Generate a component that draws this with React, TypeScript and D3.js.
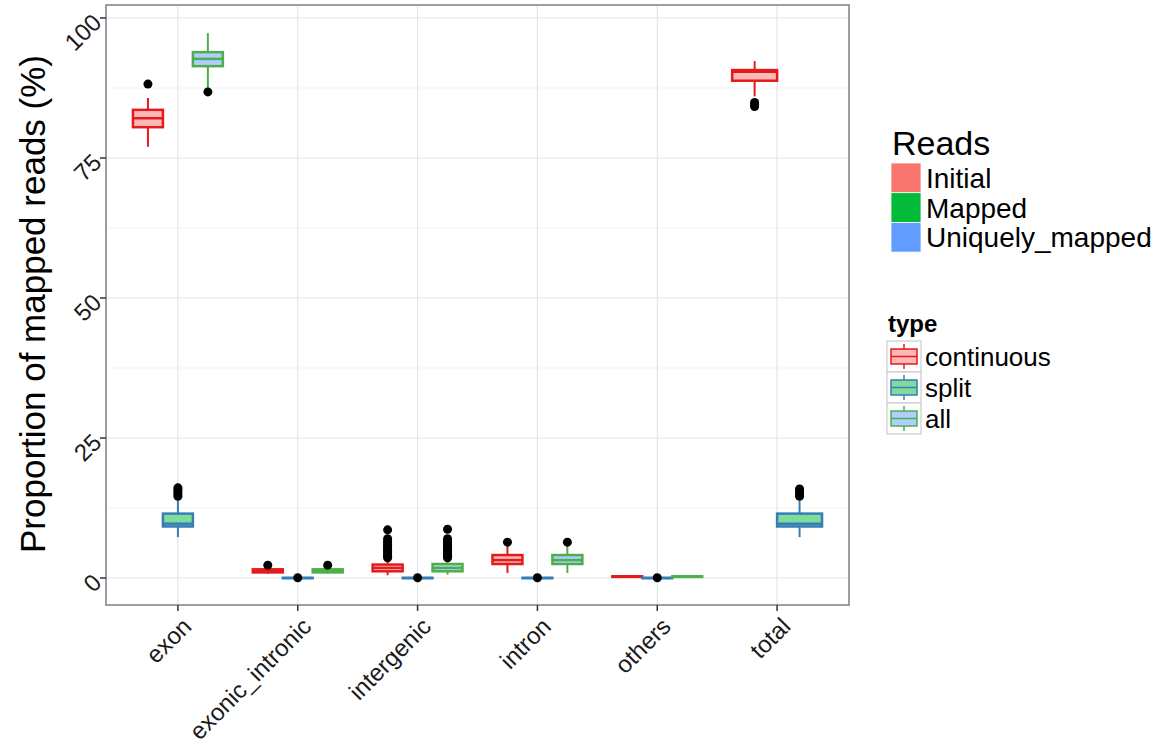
import React, { useRef, useEffect } from "react";
import * as d3 from "d3";

const categories = ["exon", "exonic_intronic", "intergenic", "intron", "others", "total"];
const yTicks = [0, 25, 50, 75, 100];
const yMinor = [12.5, 37.5, 62.5, 87.5];

// five-number summaries per category: [lower whisker, q1, median, q3, upper whisker]
const continuousStats = [
  [77.0, 80.5, 82.1, 83.6, 85.7],
  [0.8, 1.0, 1.25, 1.55, 1.9],
  [0.5, 1.2, 1.8, 2.4, 3.4],
  [0.9, 2.5, 3.2, 4.1, 5.9],
  [0.15, 0.2, 0.25, 0.3, 0.35],
  [86.0, 88.8, 90.4, 90.7, 92.3],
];
const continuousOutliers = [
  [88.2],
  [2.3],
  [3.6, 3.9, 4.2, 4.5, 4.8, 5.1, 5.4, 5.7, 6.0, 6.3, 6.6, 7.0, 8.6],
  [6.4],
  [],
  [84.2, 84.5, 84.9],
];

const splitStats = [
  [7.3, 9.2, 9.7, 11.5, 13.8],
  [-0.05, -0.02, 0, 0.02, 0.05],
  [-0.05, -0.02, 0, 0.02, 0.05],
  [-0.05, -0.02, 0, 0.02, 0.05],
  [-0.05, -0.02, 0, 0.02, 0.05],
  [7.3, 9.2, 9.7, 11.5, 13.8],
];
const splitOutliers = [
  [14.6, 15.0, 15.4, 15.8, 16.1],
  [0.05],
  [0.05],
  [0.05],
  [0.05],
  [14.6, 15.0, 15.5, 15.9],
];

const allStats = [
  [87.5, 91.4, 92.7, 93.9, 97.3],
  [0.8, 1.0, 1.25, 1.55, 1.9],
  [0.6, 1.2, 1.8, 2.5, 3.4],
  [0.9, 2.5, 3.2, 4.1, 5.9],
  [0.15, 0.2, 0.25, 0.3, 0.35],
  null,
];
const allOutliers = [
  [86.8],
  [2.3],
  [3.6, 3.9, 4.2, 4.5, 4.8, 5.1, 5.4, 5.7, 6.0, 6.3, 6.6, 7.0, 8.7],
  [6.4],
  [],
  [],
];

const readsLabels = ["Initial", "Mapped", "Uniquely_mapped"];
const readsColors = ["#F8766D", "#00BA38", "#619CFF"];
const typeLabels = ["continuous", "split", "all"];
const typeColors = ["#E41A1C", "#377EB8", "#4DAF4A"];

const series = [
  { stats: continuousStats, outliers: continuousOutliers, color: typeColors[0], fill: readsColors[0] },
  { stats: splitStats, outliers: splitOutliers, color: typeColors[1], fill: readsColors[1] },
  { stats: allStats, outliers: allOutliers, color: typeColors[2], fill: readsColors[2] },
];

const FONT = "'Liberation Sans', Arial, Helvetica, sans-serif";
const W = 1167;
const H = 747;
const panel = { left: 106, right: 849, top: 5, bottom: 605 };

const App = () => {
  const svgRef = useRef<SVGSVGElement>(null);

  useEffect(() => {
    const svg = d3.select(svgRef.current);
    svg.selectAll("*").remove();

    const x = d3
      .scalePoint<string>()
      .domain(categories)
      .range([panel.left, panel.right])
      .padding(0.6);
    const y = d3.scaleLinear().domain([-4.82, 102.32]).range([panel.bottom, panel.top]);
    const dodge = x.step() * 0.75;

    // Panel background + grid
    svg
      .append("rect")
      .attr("x", panel.left)
      .attr("y", panel.top)
      .attr("width", panel.right - panel.left)
      .attr("height", panel.bottom - panel.top)
      .attr("fill", "white");

    yMinor.forEach((v) => {
      svg
        .append("line")
        .attr("x1", panel.left)
        .attr("x2", panel.right)
        .attr("y1", y(v))
        .attr("y2", y(v))
        .attr("stroke", "#F3F3F3")
        .attr("stroke-width", 1);
    });
    yTicks.forEach((v) => {
      svg
        .append("line")
        .attr("x1", panel.left)
        .attr("x2", panel.right)
        .attr("y1", y(v))
        .attr("y2", y(v))
        .attr("stroke", "#E5E5E5")
        .attr("stroke-width", 1.2);
    });
    categories.forEach((c) => {
      svg
        .append("line")
        .attr("x1", x(c))
        .attr("x2", x(c))
        .attr("y1", panel.top)
        .attr("y2", panel.bottom)
        .attr("stroke", "#E5E5E5")
        .attr("stroke-width", 1.2);
    });

    // Boxplots
    categories.forEach((c, ci) => {
      const present = series.filter((s) => s.stats[ci]);
      const gw = dodge / present.length;
      present.forEach((s, gi) => {
        const st = s.stats[ci] as number[];
        const cx = (x(c) as number) - dodge / 2 + gw * (gi + 0.5);
        const bw = gw;
        const g = svg.append("g");
        g.append("line")
          .attr("x1", cx)
          .attr("x2", cx)
          .attr("y1", y(st[0]))
          .attr("y2", y(st[4]))
          .attr("stroke", s.color)
          .attr("stroke-width", 2);
        g.append("rect")
          .attr("x", cx - bw / 2)
          .attr("width", bw)
          .attr("y", y(st[3]))
          .attr("height", Math.max(0, y(st[1]) - y(st[3])))
          .attr("fill", "white")
          .attr("stroke", "none");
        g.append("rect")
          .attr("x", cx - bw / 2)
          .attr("width", bw)
          .attr("y", y(st[3]))
          .attr("height", Math.max(0, y(st[1]) - y(st[3])))
          .attr("fill", s.fill)
          .attr("fill-opacity", 0.5)
          .attr("stroke", s.color)
          .attr("stroke-width", 2.5);
        g.append("line")
          .attr("x1", cx - bw / 2)
          .attr("x2", cx + bw / 2)
          .attr("y1", y(st[2]))
          .attr("y2", y(st[2]))
          .attr("stroke", s.color)
          .attr("stroke-width", 2.5);
        s.outliers[ci].forEach((o) => {
          g.append("circle")
            .attr("cx", cx)
            .attr("cy", y(o))
            .attr("r", 4.5)
            .attr("fill", "black");
        });
      });
    });

    // Panel border
    svg
      .append("rect")
      .attr("x", panel.left)
      .attr("y", panel.top)
      .attr("width", panel.right - panel.left)
      .attr("height", panel.bottom - panel.top)
      .attr("fill", "none")
      .attr("stroke", "#7F7F7F")
      .attr("stroke-width", 1.5);

    // Y axis
    yTicks.forEach((v) => {
      svg
        .append("line")
        .attr("x1", panel.left - 6)
        .attr("x2", panel.left)
        .attr("y1", y(v))
        .attr("y2", y(v))
        .attr("stroke", "#333")
        .attr("stroke-width", 1.5);
      svg
        .append("text")
        .attr("transform", `translate(${panel.left - 9},${y(v)}) rotate(-45)`)
        .attr("text-anchor", "end")
        .attr("dy", "0.35em")
        .style("font-family", FONT)
        .style("font-size", "24px")
        .attr("fill", "#1a1a1a")
        .text(v);
    });

    // X axis
    categories.forEach((c) => {
      const cx = x(c) as number;
      svg
        .append("line")
        .attr("x1", cx)
        .attr("x2", cx)
        .attr("y1", panel.bottom)
        .attr("y2", panel.bottom + 6)
        .attr("stroke", "#333")
        .attr("stroke-width", 1.5);
      svg
        .append("text")
        .attr("transform", `translate(${cx + 9},${panel.bottom + 17}) rotate(-45)`)
        .attr("text-anchor", "end")
        .attr("dy", "0.35em")
        .style("font-family", FONT)
        .style("font-size", "24px")
        .attr("fill", "#1a1a1a")
        .text(c);
    });

    svg
      .append("text")
      .attr("transform", `translate(45,${(y(0) + y(100)) / 2 + 6}) rotate(-90)`)
      .attr("text-anchor", "middle")
      .style("font-family", FONT)
      .style("font-size", "35px")
      .text("Proportion of mapped reads (%)");

    // Legend: Reads
    svg
      .append("text")
      .attr("x", 892)
      .attr("y", 155)
      .style("font-family", FONT)
      .style("font-size", "34px")
      .text("Reads");
    readsLabels.forEach((lab, i) => {
      const top = 163 + i * 29.7;
      svg
        .append("rect")
        .attr("x", 891)
        .attr("y", top)
        .attr("width", 30)
        .attr("height", 29.7)
        .attr("fill", readsColors[i])
        .attr("stroke", "white")
        .attr("stroke-width", 0.8);
      svg
        .append("text")
        .attr("x", 926)
        .attr("y", top + 25)
        .style("font-family", FONT)
        .style("font-size", "28px")
        .text(lab);
    });

    // Legend: type
    svg
      .append("text")
      .attr("x", 888)
      .attr("y", 332)
      .style("font-family", FONT)
      .style("font-size", "24px")
      .style("font-weight", "bold")
      .text("type");
    typeLabels.forEach((lab, i) => {
      const top = 341 + i * 31;
      const kx = 887;
      const kw = 34;
      const kh = 31;
      const cx = kx + kw / 2;
      svg
        .append("rect")
        .attr("x", kx)
        .attr("y", top)
        .attr("width", kw)
        .attr("height", kh)
        .attr("fill", "white")
        .attr("stroke", "#CCCCCC")
        .attr("stroke-width", 1.2);
      svg
        .append("line")
        .attr("x1", cx)
        .attr("x2", cx)
        .attr("y1", top + 3)
        .attr("y2", top + kh - 3)
        .attr("stroke", typeColors[i])
        .attr("stroke-width", 1.5);
      svg
        .append("rect")
        .attr("x", kx + 4)
        .attr("y", top + 8)
        .attr("width", kw - 8)
        .attr("height", kh - 16)
        .attr("fill", "white");
      svg
        .append("rect")
        .attr("x", kx + 4)
        .attr("y", top + 8)
        .attr("width", kw - 8)
        .attr("height", kh - 16)
        .attr("fill", readsColors[i])
        .attr("fill-opacity", 0.5)
        .attr("stroke", typeColors[i])
        .attr("stroke-width", 1.5);
      svg
        .append("line")
        .attr("x1", kx + 4)
        .attr("x2", kx + kw - 4)
        .attr("y1", top + kh / 2)
        .attr("y2", top + kh / 2)
        .attr("stroke", typeColors[i])
        .attr("stroke-width", 1.5);
      svg
        .append("text")
        .attr("x", 925)
        .attr("y", top + 25)
        .style("font-family", FONT)
        .style("font-size", "26px")
        .text(lab);
    });
  }, []);

  return (
    <svg
      ref={svgRef}
      width={W}
      height={H}
      style={{ position: "absolute", left: 0, top: 0, background: "white" }}
    />
  );
};

export default App;
